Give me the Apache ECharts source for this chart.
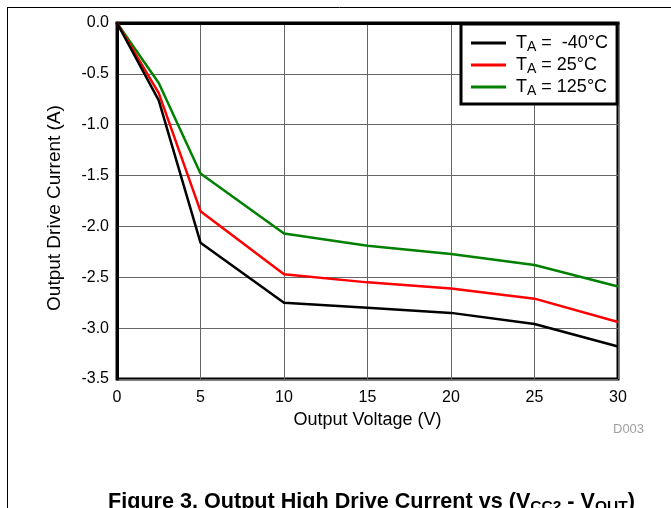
<!DOCTYPE html>
<html><head><meta charset="utf-8">
<script src="https://cdn.jsdelivr.net/npm/echarts@6/dist/echarts.min.js"></script>
<style>html,body{margin:0;padding:0;background:#fff}#c{width:671px;height:508px}</style>
</head><body><div id="c"></div>
<script>
const voltage = [0, 2.5, 5, 10, 15, 20, 25, 30];
const currentM40 = [0, -0.76, -2.16, -2.75, -2.80, -2.85, -2.96, -3.18];
const current25 = [0, -0.69, -1.85, -2.47, -2.55, -2.61, -2.71, -2.94];
const current125 = [0, -0.59, -1.48, -2.07, -2.19, -2.27, -2.38, -2.59];
const seriesNames = ['T_A =  -40°C', 'T_A = 25°C', 'T_A = 125°C'];
const seriesColors = ['#000000', '#ff0000', '#008000'];
const seriesData = [currentM40, current25, current125];

const font = 'Liberation Sans, Arial, sans-serif';
const chart = echarts.init(document.getElementById('c'));
chart.setOption({
  animation: false,
  backgroundColor: '#fff',
  textStyle: { fontFamily: font },
  grid: { left: 117, top: 23, right: 53, bottom: 129, show: true, borderColor: '#000', borderWidth: 3, backgroundColor: 'transparent' },
  xAxis: {
    type: 'value', min: 0, max: 30, interval: 5,
    name: 'Output Voltage (V)', nameLocation: 'middle', nameGap: 32,
    nameTextStyle: { fontSize: 18, color: '#000', fontFamily: font },
    axisLine: { show: true, lineStyle: { color: '#000', width: 3 } },
    axisTick: { show: false },
    axisLabel: { fontSize: 16, color: '#000', margin: 11, fontFamily: font },
    splitLine: { show: true, lineStyle: { color: '#666', width: 1 } }
  },
  yAxis: {
    type: 'value', min: -3.5, max: 0, interval: 0.5,
    axisLine: { show: true, lineStyle: { color: '#000', width: 3 } },
    axisTick: { show: false },
    axisLabel: { fontSize: 16, color: '#000', margin: 8, fontFamily: font, formatter: v => v.toFixed(1) },
    splitLine: { show: true, lineStyle: { color: '#666', width: 1 } }
  },
  legend: {
    orient: 'vertical', left: 461, top: 24,
    backgroundColor: '#fff', borderColor: '#000', borderWidth: 3,
    padding: [8, 9, 6, 10], itemGap: 0, itemWidth: 35, itemHeight: 3,
    data: seriesNames.map(n => ({ name: n, icon: 'rect' })),
    formatter: n => { const p = n.split('_A'); return '{t|T}{s|A}{u|' + p[1] + '}'; },
    textStyle: {
      fontFamily: font, color: '#000',
      rich: {
        t: { fontSize: 18, fontFamily: font, color: '#000', lineHeight: 22, padding: [0, 0, 0, 5] },
        s: { fontSize: 14, fontFamily: font, color: '#000', lineHeight: 22, padding: [8, 0, 0, 0] },
        u: { fontSize: 18, fontFamily: font, color: '#000', lineHeight: 22 }
      }
    }
  },
  series: seriesData.map((d, i) => ({
    name: seriesNames[i], type: 'line', symbol: 'none', z: 5 - i,
    data: voltage.map((v, j) => [v, d[j]]),
    lineStyle: { color: seriesColors[i], width: 2.5 },
    itemStyle: { color: seriesColors[i] }
  })),
  graphic: [
    { type: 'line', shape: { x1: 8, y1: 7.5, x2: 671, y2: 7.5 }, style: { stroke: '#000', lineWidth: 1 } },
    { type: 'line', shape: { x1: 7.5, y1: 7, x2: 7.5, y2: 508 }, style: { stroke: '#000', lineWidth: 1 } },
    { type: 'text', x: 55, y: 208, rotation: Math.PI / 2, style: { text: 'Output Drive Current (A)', fontSize: 19, fill: '#000', fontFamily: font, align: 'center', verticalAlign: 'middle' } },
    { type: 'text', left: 613, top: 423, style: { text: 'D003', fontSize: 13, fill: '#a0a0a0', fontFamily: font } },
    { type: 'text', left: 108, top: 490, style: {
      text: '{b|Figure 3. Output High Drive Current vs (V}{s|CC2}{b| - V}{s|OUT}{b|)}',
      fontFamily: font,
      rich: {
        b: { fontSize: 21.6, fontWeight: 'bold', fontFamily: font, fill: '#000', lineHeight: 24 },
        s: { fontSize: 15.5, fontWeight: 'bold', fontFamily: font, fill: '#000', lineHeight: 24, padding: [9, 0, 0, 0] }
      }
    } }
  ]
});
</script></body></html>
